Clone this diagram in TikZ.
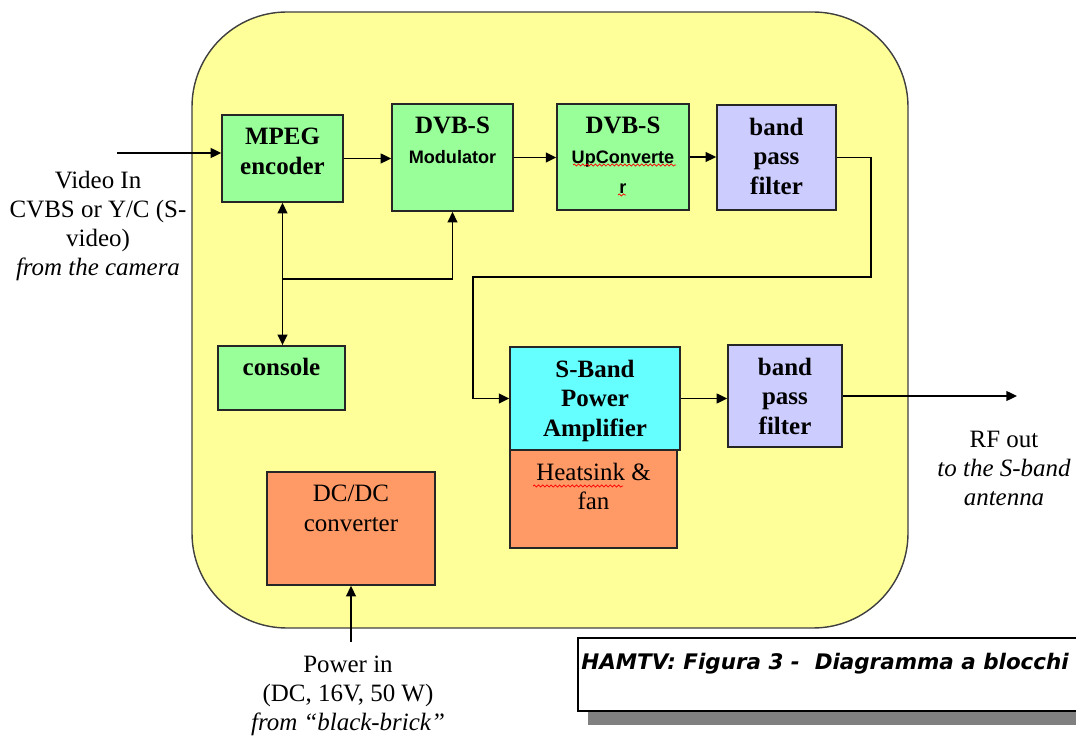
\documentclass[tikz,border=0pt]{standalone}
\usepackage{fontspec}
\setmainfont{Liberation Serif}
\newfontfamily\arialfont{Liberation Sans}
\newfontfamily\verdanafont{DejaVu Sans}
\usetikzlibrary{arrows.meta,decorations.pathmorphing}
\definecolor{boardyellow}{HTML}{FFFF99}
\definecolor{blkgreen}{HTML}{99FF99}
\definecolor{blklilac}{HTML}{CCCCFF}
\definecolor{blkcyan}{HTML}{66FFFF}
\definecolor{blkorange}{HTML}{FF9966}
\newcommand{\smallsans}{\arialfont\fontsize{10.3}{11}\selectfont}
\begin{document}
\begin{tikzpicture}[x=0.02cm,y=-0.02cm,
  blk/.style={draw=black!85, line width=1.1pt, inner sep=0pt},
  intext/.style={anchor=north, yshift=-7.5pt, inner sep=0pt, align=center,
    font=\fontsize{14.2}{17}\selectfont\bfseries},
  plaintext/.style={intext, font=\fontsize{14.2}{17}\selectfont},
  outtext/.style={align=center, inner sep=0pt, font=\fontsize{14.2}{16.5}\selectfont},
  arr/.style={line width=1.1pt, -{Triangle[length=6pt,width=5.5pt]}},
  dblarr/.style={line width=1.1pt, {Triangle[length=6pt,width=5.5pt]}-{Triangle[length=6pt,width=5.5pt]}},
  squig/.style={draw=red, line width=0.4pt, decorate,
    decoration={snake, amplitude=0.6pt, segment length=2.4pt}}]
\useasboundingbox (0,0) rectangle (1076,736);
% the board
\draw[fill=boardyellow, draw=black!75, line width=0.8pt, rounded corners=54pt]
  (192,12) rectangle (908,628);
% video chain
\node[blk, fill=blkgreen, minimum width=68.6pt, minimum height=49.3pt,
  label={[intext]north:MPEG\\encoder}] (mpeg) at (282.5,158.5) {};
\node[blk, fill=blkgreen, minimum width=68.6pt, minimum height=60.7pt,
  label={[intext]north:DVB-S\\{\smallsans Modulator}}] (modu) at (452.5,157.5) {};
\node[blk, fill=blkgreen, minimum width=74.8pt, minimum height=60.1pt,
  label={[intext]north:DVB-S\\{\smallsans UpConverte}\\{\smallsans r}}] (upconv) at (623,157) {};
\node[blk, fill=blklilac, minimum width=67.5pt, minimum height=59.5pt,
  label={[intext]north:band\\pass\\filter}] (bpfa) at (776.5,157.5) {};
\node[blk, fill=blkgreen, minimum width=72pt, minimum height=36.3pt,
  label={[intext]north:console}] (console) at (281.5,378) {};
% power stage
\node[blk, fill=blkorange, minimum width=94.7pt, minimum height=55.6pt,
  label={[plaintext]north:Heatsink \&\\fan}] (heat) at (593.5,499) {};
\node[blk, fill=blkcyan, minimum width=96.4pt, minimum height=58.4pt,
  label={[intext]north:S-Band\\Power\\Amplifier}] (pa) at (595,398.5) {};
\node[blk, fill=blklilac, minimum width=64.6pt, minimum height=57.8pt,
  label={[intext]north:band\\pass\\filter}] (bpfb) at (785,396) {};
\node[blk, fill=blkorange, minimum width=95.2pt, minimum height=64.1pt,
  label={[plaintext]north:DC/DC\\converter}] (dcdc) at (351,528.5) {};
% spell-check marks
\draw[squig] (573,165) -- (676,165);
\draw[squig] (618,195) -- (626,195);
\draw[squig] (533,486) -- (623,486);
% free ends and bends
\coordinate (vin) at (117,153);
\coordinate (rfout) at (1017,394);
\coordinate (pwr) at (351,642);
\coordinate (jn) at (282.5,279);
\coordinate (benda) at (871,277);
\coordinate (bendb) at (473,277);
% connectors
\draw[arr] (vin) -- (vin -| mpeg.west);
\draw[arr] (mpeg.east) -- (mpeg.east -| modu.west);
\draw[arr] (modu.east) -- (modu.east -| upconv.west);
\draw[arr] (upconv.east) -- (upconv.east -| bpfa.west);
\draw[arr] (bpfa.east) -| (benda) -- (bendb) |- (pa.west);
\draw[arr] (pa.east) -- (pa.east -| bpfb.west);
\draw[arr] (bpfb.east) -- (bpfb.east -| rfout);
\draw[dblarr] (mpeg.south) -- (mpeg.south |- console.north);
\draw[arr] (jn) -| (modu.south);
\draw[arr] (pwr) -- (dcdc.south);
% outside labels
\node[outtext] (vidtxt) at (98,226)
  {Video In\\CVBS or Y/C (S-\\video)\\\itshape from the camera};
\node[outtext] (rftxt) at (1004,468)
  {RF out\\\itshape to the S-band\\\itshape antenna};
\node[outtext] (pwrtxt) at (348,696)
  {Power in\\(DC, 16V, 50 W)\\\itshape from “black-brick”};
% caption box with shadow
\fill[black!50] (588,652) rectangle (1100,725);
\draw[fill=white, line width=1.1pt] (578,638) rectangle (1095,711);
\node[anchor=west, inner sep=0pt, font=\verdanafont\bfseries\itshape\fontsize{12.2}{14}\selectfont]
  (caption) at (581,664) {HAMTV: Figura 3 -\ \ Diagramma a blocchi};
\end{tikzpicture}
\end{document}
